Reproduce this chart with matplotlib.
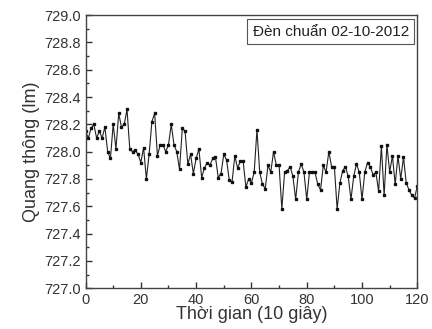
import numpy as np
import matplotlib
matplotlib.use("Agg")
import matplotlib.pyplot as plt
from matplotlib.ticker import MultipleLocator

plt.rcParams['font.family'] = ['Liberation Sans', 'DejaVu Sans']

# thoi gian (10 giay) va quang thong (lm)
t = np.arange(0, 121)
flux = [728.15, 728.10, 728.17, 728.20, 728.10, 728.15, 728.10, 728.18, 728.00, 727.95,
        728.20, 728.02, 728.28, 728.18, 728.20, 728.31, 728.02, 728.00, 728.01, 727.98,
        727.92, 728.03, 727.80, 727.98, 728.22, 728.28, 727.97, 728.05, 728.05, 728.00,
        728.05, 728.20, 728.05, 728.00, 727.87, 728.17, 728.15, 727.91, 727.98, 727.84,
        727.95, 728.02, 727.81, 727.88, 727.92, 727.90, 727.95, 727.96, 727.81, 727.84,
        727.98, 727.94, 727.79, 727.78, 727.97, 727.88, 727.93, 727.93, 727.74, 727.80,
        727.77, 727.85, 728.16, 727.85, 727.76, 727.73, 727.90, 727.85, 728.00, 727.90,
        727.90, 727.58, 727.85, 727.86, 727.89, 727.82, 727.65, 727.85, 727.91, 727.85,
        727.65, 727.85, 727.85, 727.85, 727.76, 727.72, 727.90, 727.85, 728.00, 727.89,
        727.89, 727.58, 727.77, 727.86, 727.89, 727.82, 727.65, 727.82, 727.91, 727.85,
        727.65, 727.85, 727.92, 727.89, 727.83, 727.85, 727.71, 728.04, 727.68, 728.05,
        727.85, 727.97, 727.76, 727.97, 727.80, 727.96, 727.77, 727.72, 727.68, 727.66,
        727.75]
legend_label = "Đèn chuẩn 02-10-2012"

fig = plt.figure(figsize=(4.32, 3.29), dpi=100)
ax = fig.add_axes([0.198, 0.124, 0.768, 0.830])

ax.plot(t, flux, color='#222222', linewidth=0.8, marker='s', markersize=2.0,
        markerfacecolor='#111111', markeredgecolor='#111111')

ax.set_xlim(0, 120)
ax.set_ylim(727.0, 729.0)
ax.xaxis.set_major_locator(MultipleLocator(20))
ax.xaxis.set_minor_locator(MultipleLocator(10))
ax.yaxis.set_major_locator(MultipleLocator(0.2))
ax.yaxis.set_minor_locator(MultipleLocator(0.1))
ax.yaxis.set_major_formatter(matplotlib.ticker.FormatStrFormatter('%.1f'))
ax.tick_params(which='both', direction='in', top=False, right=False,
               labelsize=10.5, colors='#333333', width=1.0)
ax.tick_params(which='major', length=4)
ax.tick_params(which='minor', length=2.5)
for s in ax.spines.values():
    s.set_color('#444444')
    s.set_linewidth(1.0)

ax.set_xlabel("Thời gian (10 giây)", fontsize=13, color='#333333', labelpad=-1)
ax.set_ylabel("Quang thông (lm)", fontsize=13, color='#333333', labelpad=3)

ax.text(0.975, 0.94, legend_label, transform=ax.transAxes, ha='right', va='center',
        fontsize=11, color='#222222',
        bbox=dict(boxstyle='square,pad=0.35', facecolor='white', edgecolor='#555555', linewidth=0.8))

fig.savefig("out.png", dpi=100)
